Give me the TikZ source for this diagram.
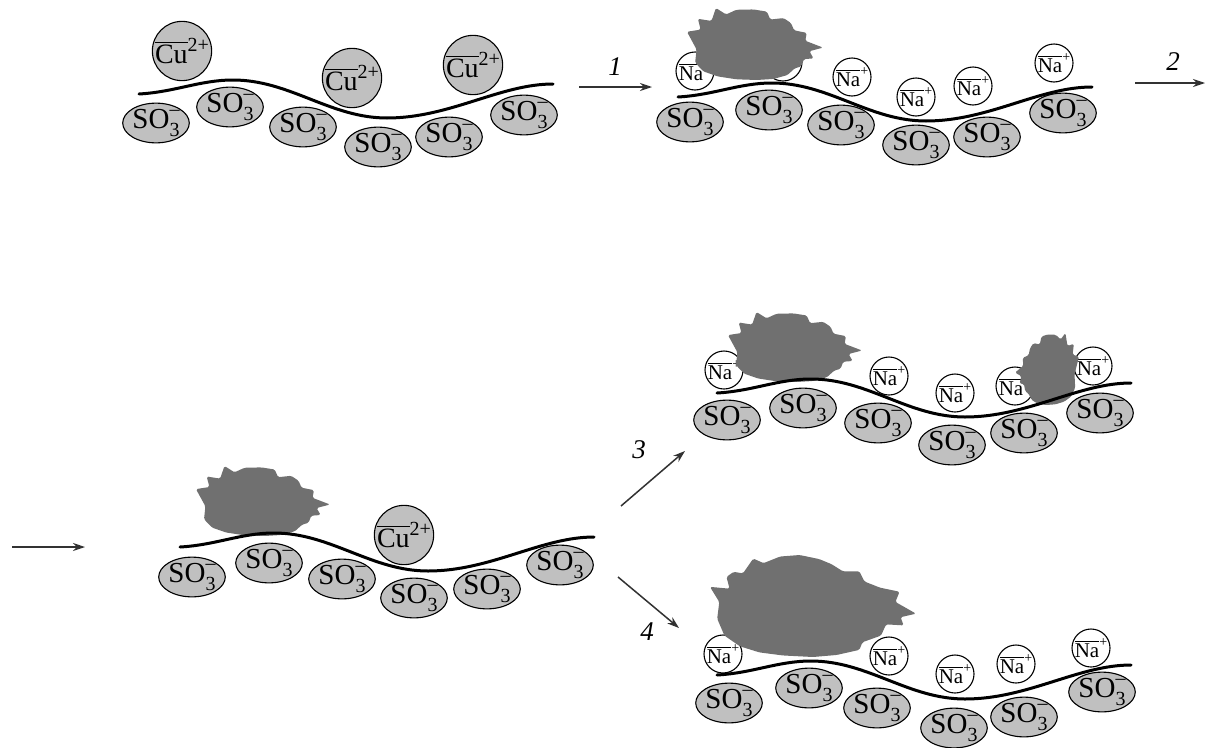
\documentclass[tikz,border=0pt]{standalone}
\usepackage{fontspec}
\setmainfont{Liberation Serif}
\usetikzlibrary{shapes.geometric,arrows.meta}

\definecolor{ionfill}{RGB}{192,192,192}
\definecolor{blobfill}{RGB}{112,112,112}
\definecolor{arrowgray}{RGB}{50,50,50}

% overlined symbol (ion in the resin phase)
\newcommand\ovl[1]{\vbox{\hrule height 1pt\kern 1.4pt\hbox{#1}}}
\newcommand\sulfonate{SO\rlap{\raisebox{-0.3em}{\fontsize{20}{20}\selectfont 3}}\raisebox{0.42em}{\fontsize{20}{20}\selectfont –}}
\newcommand\copperion{\ovl{Cu}\raisebox{0.4em}{\fontsize{20}{20}\selectfont 2+}}
\newcommand\sodiumion{\ovl{Na}\raisebox{0.5em}{\fontsize{14}{14}\selectfont +}}

\tikzset{
  sulf/.style={ellipse, draw=black, line width=1.1pt, fill=ionfill,
    minimum width=66pt, minimum height=38pt, inner sep=0pt,
    font=\fontsize{29}{31}\selectfont},
  cuion/.style={circle, draw=black, line width=1.1pt, fill=ionfill,
    minimum size=58pt, inner sep=0pt, font=\fontsize{28}{30}\selectfont},
  naion/.style={circle, draw=black, line width=1.1pt, fill=white,
    minimum size=38pt, inner sep=0pt, font=\fontsize{21}{23}\selectfont},
  steplabel/.style={font=\fontsize{27}{29}\selectfont\itshape, inner sep=0pt},
  reactarrow/.style={draw=arrowgray, line width=1.5pt,
    -{Stealth[length=12pt,width=8pt]}},
  fiberline/.style={line width=3pt, line cap=round},
  particle/.style={fill=blobfill, rounded corners=1.5pt},
  % polymer backbone
  fiber/.pic={\draw[fiberline] (139,94) .. controls (175,92) and (200,80) .. (233,80)
      .. controls (290,80) and (330,118) .. (387,118)
      .. controls (450,118) and (500,84) .. (553,84);},
  % copper particle, first outline (unit box -1..1)
  particleA/.pic={\path[particle] (-0.575,-1.0) -- (-0.425,-0.82) -- (-0.275,-0.95)
      -- (-0.025,-0.96) -- (0.175,-0.90) -- (0.225,-0.68) -- (0.42,-0.72)
      -- (0.53,-0.58) -- (0.575,-0.38) -- (0.76,-0.31) -- (0.74,-0.09)
      -- (1.0,0.10) -- (0.80,0.20) -- (0.86,0.40) -- (0.72,0.42)
      -- (0.68,0.62) -- (0.58,0.68) -- (0.48,0.86) -- (0.275,0.97)
      -- (0.025,1.0) -- (-0.275,0.98) -- (-0.55,0.90) -- (-0.76,0.76)
      -- (-0.88,0.52) -- (-0.86,0.15) -- (-1.0,-0.34) -- (-0.80,-0.40)
      -- (-0.84,-0.70) -- (-0.64,-0.64) -- cycle;},
  % copper particle, second outline
  particleB/.pic={\path[particle] (-0.58,-0.93) -- (-0.48,-0.84) -- (-0.32,-0.97)
      -- (-0.13,-1.0) -- (0.06,-0.92) -- (0.18,-0.82) -- (0.29,-0.68)
      -- (0.45,-0.68) -- (0.50,-0.48) -- (0.65,-0.36) -- (0.84,-0.28)
      -- (0.80,-0.08) -- (1.0,0.15) -- (0.85,0.22) -- (0.88,0.38)
      -- (0.71,0.36) -- (0.66,0.58) -- (0.48,0.71) -- (0.45,0.86)
      -- (0.23,0.96) -- (0.0,1.0) -- (-0.29,0.97) -- (-0.52,0.91)
      -- (-0.71,0.79) -- (-0.86,0.58) -- (-0.93,0.25) -- (-0.91,-0.08)
      -- (-1.0,-0.375) -- (-0.81,-0.34) -- (-0.84,-0.57) -- (-0.77,-0.67)
      -- (-0.68,-0.64) -- cycle;},
}

\begin{document}
\begin{tikzpicture}[x=1pt, y=-1pt]
\fill[white] (0,0) rectangle (1212,747);
\useasboundingbox (0,0) rectangle (1212,747);

% ---------- stage 0: Cu2+ form ----------
\node[sulf] (a1) at (156,123) {\sulfonate};
\node[sulf] (a2) at (230,107) {\sulfonate};
\node[sulf] (a3) at (303,127) {\sulfonate};
\node[sulf] (a4) at (378,147) {\sulfonate};
\node[sulf] (a5) at (449,137) {\sulfonate};
\node[sulf] (a6) at (524,115) {\sulfonate};
\node[cuion] (ac1) at (182,51) {\copperion};
\node[cuion] (ac2) at (352,78) {\copperion};
\node[cuion] (ac3) at (473,65) {\copperion};
\pic at (0,0) {fiber};

% step 1
\coordinate (s1a) at (579,87);
\coordinate (s1b) at (652,87);
\draw[reactarrow] (s1a) -- (s1b);
\node[steplabel] (l1) at (615,67) {1};

% ---------- stage 1: Na+ form with particle ----------
\node[sulf] (b1) at (690,122) {\sulfonate};
\node[sulf] (b2) at (769,110) {\sulfonate};
\node[sulf] (b3) at (841,125) {\sulfonate};
\node[sulf] (b4) at (916,145) {\sulfonate};
\node[sulf] (b5) at (987,137) {\sulfonate};
\node[sulf] (b6) at (1063,113) {\sulfonate};
\node[naion] (bn1) at (695,71) {\sodiumion};
\node[naion] (bn2) at (783,62) {\sodiumion};
\node[naion] (bn3) at (852,77) {\sodiumion};
\node[naion] (bn4) at (916,97) {\sodiumion};
\node[naion] (bn5) at (973,86) {\sodiumion};
\node[naion] (bn6) at (1054,63) {\sodiumion};
\pic[xscale=68, yscale=36] at (755,44) {particleA};
\pic at (539,3) {fiber};

% step 2
\coordinate (s2a) at (1135,83);
\coordinate (s2b) at (1205,83);
\draw[reactarrow] (s2a) -- (s2b);
\node[steplabel] (l2) at (1173,62) {2};

% continuation arrow
\coordinate (s0a) at (12,547);
\coordinate (s0b) at (85,547);
\draw[reactarrow] (s0a) -- (s0b);

% ---------- stage 2: particle and Cu2+ ----------
\node[sulf] (c1) at (192,577) {\sulfonate};
\node[sulf] (c2) at (269,563) {\sulfonate};
\node[sulf] (c3) at (342,579) {\sulfonate};
\node[sulf] (c4) at (414,598) {\sulfonate};
\node[sulf] (c5) at (487,589) {\sulfonate};
\node[sulf] (c6) at (560,565) {\sulfonate};
\node[cuion] (cc1) at (404,535) {\copperion};
\pic[xscale=67, yscale=35] at (263,501) {particleA};
\pic at (41,453) {fiber};

% steps 3 and 4
\coordinate (s3a) at (621,506);
\coordinate (s3b) at (685,451);
\draw[reactarrow] (s3a) -- (s3b);
\node[steplabel] (l3) at (639,450) {3};
\coordinate (s4a) at (618,577);
\coordinate (s4b) at (679,628);
\draw[reactarrow] (s4a) -- (s4b);
\node[steplabel] (l4) at (647,632) {4};

% ---------- stage 3: two particles ----------
\node[sulf] (d1) at (727,420) {\sulfonate};
\node[sulf] (d2) at (803,408) {\sulfonate};
\node[sulf] (d3) at (878,423) {\sulfonate};
\node[sulf] (d4) at (952,445) {\sulfonate};
\node[sulf] (d5) at (1024,433) {\sulfonate};
\node[sulf] (d6) at (1100,413) {\sulfonate};
\node[naion] (dn1) at (724,370) {\sodiumion};
\node[naion] (dn2) at (889,376) {\sodiumion};
\node[naion] (dn3) at (955,393) {\sodiumion};
\node[naion] (dn4) at (1015,386) {\sodiumion};
\node[naion] (dn5) at (1093,366) {\sodiumion};
\pic[xscale=67, yscale=35] at (795,347) {particleA};
\pic[xscale=-32, yscale=36] at (1047,369) {particleA};
\pic at (578,299) {fiber};

% ---------- stage 4: one large particle ----------
\node[sulf] (e1) at (729,703) {\sulfonate};
\node[sulf] (e2) at (809,688) {\sulfonate};
\node[sulf] (e3) at (877,708) {\sulfonate};
\node[sulf] (e4) at (954,728) {\sulfonate};
\node[sulf] (e5) at (1024,717) {\sulfonate};
\node[sulf] (e6) at (1102,692) {\sulfonate};
\node[naion] (en1) at (723,654) {\sodiumion};
\node[naion] (en2) at (889,656) {\sodiumion};
\node[naion] (en3) at (955,674) {\sodiumion};
\node[naion] (en4) at (1016,664) {\sodiumion};
\node[naion] (en5) at (1091,648) {\sodiumion};
\pic[xscale=103, yscale=51] at (813,606) {particleB};
\pic at (578,581) {fiber};
\end{tikzpicture}
\end{document}
